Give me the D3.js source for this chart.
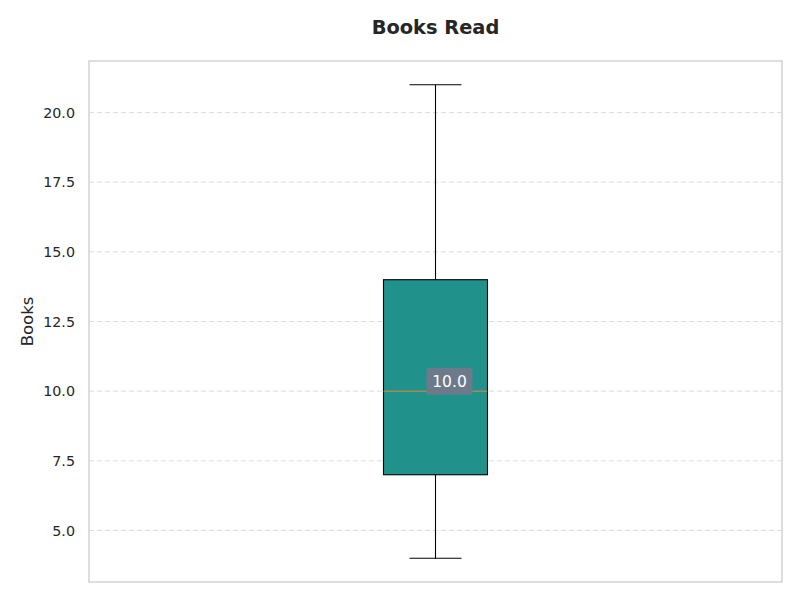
<!DOCTYPE html>
<html>
<head>
<meta charset="utf-8">
<script src="https://cdn.jsdelivr.net/npm/d3@7"></script>
<style>
html,body{margin:0;padding:0;background:#fff;}
svg{display:block;}
</style>
</head>
<body>
<svg id="chart" width="800" height="600"></svg>
<script>
const title = "Books Read";
const yLabel = "Books";
const categories = ["Books"];
const whiskerLow = [4];
const q1 = [7];
const median = [10];
const q3 = [14];
const whiskerHigh = [21];
const yTicks = [5.0, 7.5, 10.0, 12.5, 15.0, 17.5, 20.0];

const svg = d3.select("#chart");
const W = 800, H = 600;
const m = {left: 89, right: 18, top: 61, bottom: 18};
const pw = W - m.left - m.right, ph = H - m.top - m.bottom;

const yMin = d3.min(whiskerLow), yMax = d3.max(whiskerHigh);
const pad = (yMax - yMin) * 0.05;
const y = d3.scaleLinear().domain([yMin - pad, yMax + pad]).range([m.top + ph, m.top]);
const x = d3.scaleBand().domain(categories).range([m.left, m.left + pw]);

const font = "'DejaVu Sans', sans-serif";

// grid
svg.append("g").selectAll("line").data(yTicks).join("line")
  .attr("x1", m.left).attr("x2", m.left + pw)
  .attr("y1", d => y(d)).attr("y2", d => y(d))
  .attr("stroke", "#dddddd").attr("stroke-width", 1)
  .attr("stroke-dasharray", "5,3");

// y axis
const yAxis = d3.axisLeft(y).tickValues(yTicks).tickFormat(d3.format(".1f")).tickSize(0).tickPadding(14);
const ga = svg.append("g").attr("transform", `translate(${m.left},0)`).call(yAxis);
ga.select(".domain").remove();
ga.selectAll("text").attr("font-family", font).attr("font-size", "14.3px").attr("fill", "#262626");

// boxes
const boxW = 104, capW = 52;
categories.forEach((c, i) => {
  const cx = x(c) + x.bandwidth() / 2;
  const g = svg.append("g");
  g.append("line").attr("x1", cx).attr("x2", cx)
    .attr("y1", y(whiskerLow[i])).attr("y2", y(q1[i]))
    .attr("stroke", "#000").attr("stroke-width", 1.1);
  g.append("line").attr("x1", cx).attr("x2", cx)
    .attr("y1", y(q3[i])).attr("y2", y(whiskerHigh[i]))
    .attr("stroke", "#000").attr("stroke-width", 1.1);
  [whiskerLow[i], whiskerHigh[i]].forEach(v => {
    g.append("line").attr("x1", cx - capW / 2).attr("x2", cx + capW / 2)
      .attr("y1", y(v)).attr("y2", y(v))
      .attr("stroke", "#000").attr("stroke-width", 1.1);
  });
  g.append("rect").attr("x", cx - boxW / 2).attr("width", boxW)
    .attr("y", y(q3[i])).attr("height", y(q1[i]) - y(q3[i]))
    .attr("fill", "#21918c").attr("stroke", "#000").attr("stroke-width", 1.1);
  g.append("line").attr("x1", cx - boxW / 2).attr("x2", cx + boxW / 2)
    .attr("y1", y(median[i])).attr("y2", y(median[i]))
    .attr("stroke", "#e8883a").attr("stroke-width", 1);
  // median label
  const lx = cx + 14, ly = y(median[i]) - 10;
  g.append("rect").attr("x", lx - 23).attr("y", ly - 13.5).attr("width", 46).attr("height", 27)
    .attr("rx", 3).attr("fill", "#6c7a89");
  g.append("text").attr("x", lx).attr("y", ly).attr("dy", "0.35em")
    .attr("text-anchor", "middle").attr("font-family", font).attr("font-size", "15.5px")
    .attr("fill", "#fff").text(d3.format(".1f")(median[i]));
});

// frame
svg.append("rect").attr("x", m.left).attr("y", m.top).attr("width", pw).attr("height", ph)
  .attr("fill", "none").attr("stroke", "#cccccc").attr("stroke-width", 1.3);

// title
svg.append("text").attr("x", m.left + pw / 2).attr("y", 27).attr("dy", "0.35em")
  .attr("text-anchor", "middle").attr("font-family", font).attr("font-weight", "bold")
  .attr("font-size", "19.4px").attr("fill", "#262626").text(title);

// y label
svg.append("text").attr("transform", `translate(27,${m.top + ph / 2}) rotate(-90)`)
  .attr("dy", "0.35em").attr("text-anchor", "middle").attr("font-family", font)
  .attr("font-size", "16.5px").attr("fill", "#262626").text(yLabel);
</script>
</body>
</html>
